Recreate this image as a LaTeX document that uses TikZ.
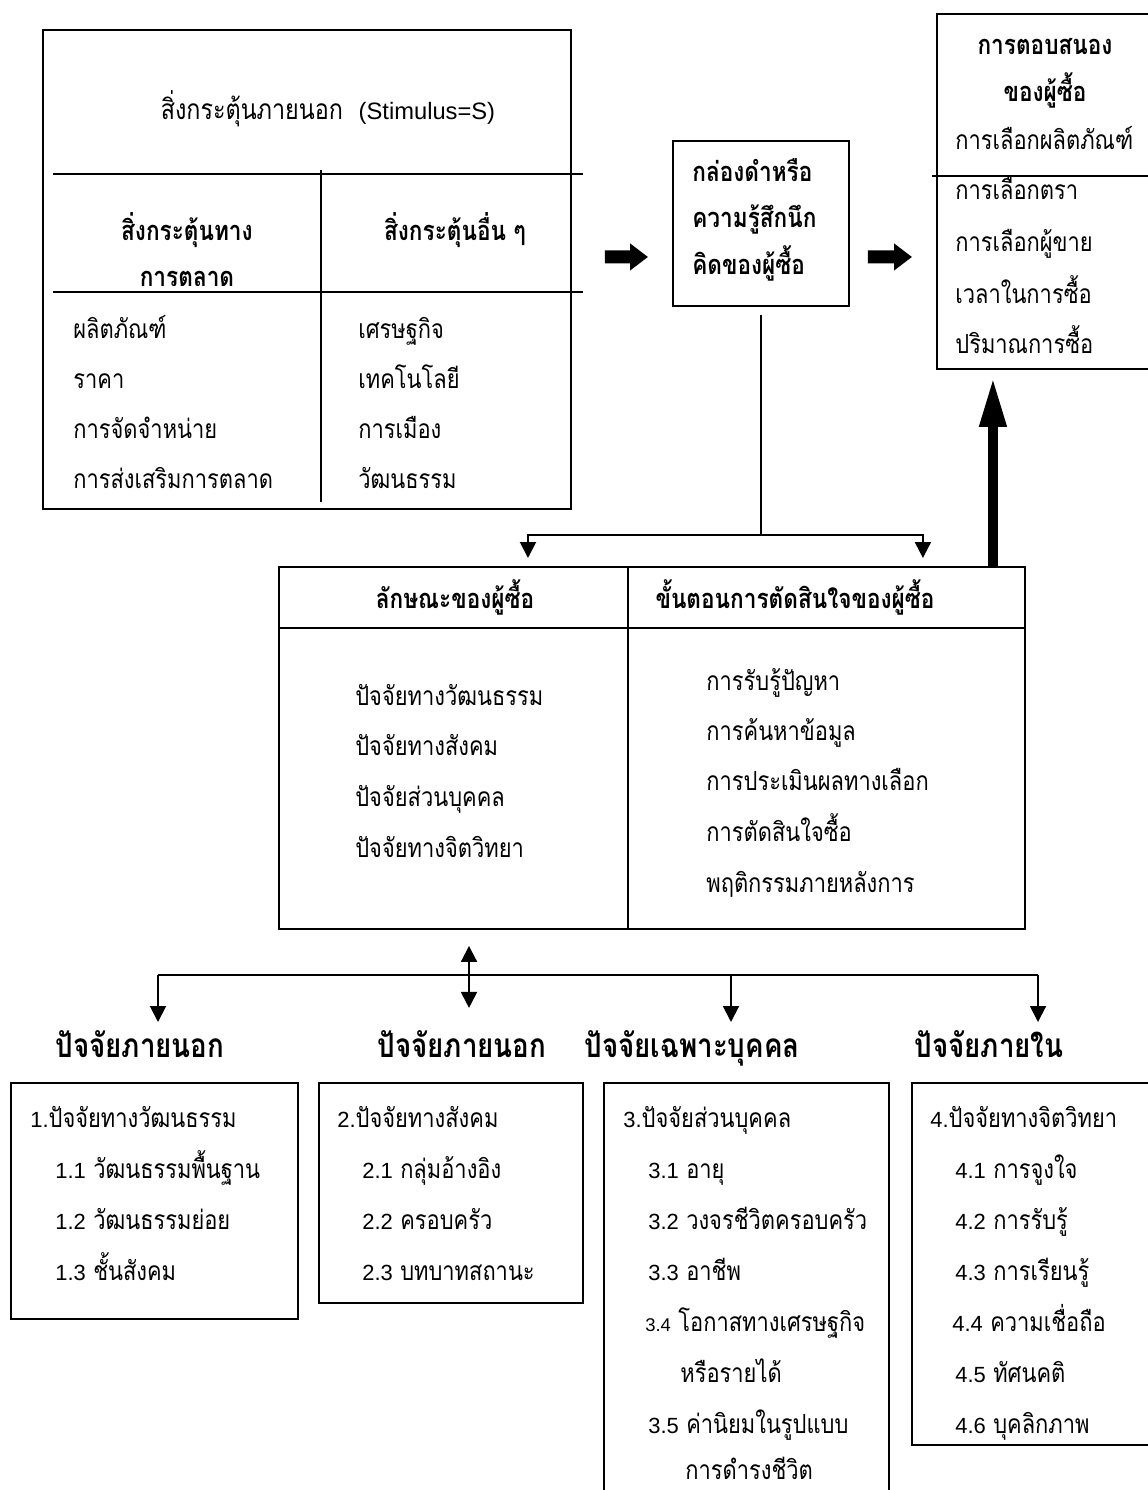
\documentclass[tikz,border=0pt]{standalone}
\usepackage{fontspec}
\newfontfamily\thaifont[Script=Thai,FakeStretch=0.83]{Loma}
\newfontfamily\latinfont{Liberation Sans}
\newcommand{\lat}[1]{{\latinfont\fontsize{12.5}{15}\selectfont #1}}
\usetikzlibrary{arrows.meta}

\begin{document}
\begin{tikzpicture}[x=0.02cm,y=-0.02cm,%%
  boxStyle/.style 2 args={draw,line width=1.1pt,inner sep=0pt,anchor=north west,
    minimum width=#1*0.02cm,minimum height=#2*0.02cm},%%
  itemStyle/.style={inner sep=0pt,anchor=base west,font=\thaifont\fontsize{15}{18}\selectfont},%%
  plainTitleStyle/.style={inner sep=0pt,anchor=base,font=\thaifont\fontsize{16}{19}\selectfont},%%
  titleStyle/.style={inner sep=0pt,anchor=base,font=\thaifont\bfseries\fontsize{15.5}{18}\selectfont},%%
  factorStyle/.style={inner sep=0pt,anchor=base,font=\thaifont\bfseries\fontsize{19}{22}\selectfont},%%
  lineStyle/.style={-,line width=1.1pt},%%
  arrowStyle/.style={-{Triangle[length=0.32cm,width=0.32cm]},line width=1.1pt},%%
  bothArrowStyle/.style={{Triangle[length=0.32cm,width=0.32cm]}-{Triangle[length=0.32cm,width=0.32cm]},line width=1.1pt},%%
  bigArrowStyle/.style={-{Triangle[length=0.36cm,width=0.52cm]},line width=0.26cm},%%
  upArrowStyle/.style={-{Triangle[length=1cm,width=0.5cm]},line width=0.2cm}
]
\useasboundingbox (0,0) rectangle (1148,1490);
%%
%% The boxes.
\node[boxStyle={528}{479}] (stim) at (42,29) {};
\node[boxStyle={176}{165}] (mind) at (672,140) {};
\node[boxStyle={216}{355}] (resp) at (936,13) {};
\node[boxStyle={746}{362}] (buyer) at (278,566) {};
\node[boxStyle={287}{236}] (fOne) at (10,1082) {};
\node[boxStyle={264}{220}] (fTwo) at (318,1082) {};
\node[boxStyle={285}{413}] (fThree) at (603,1082) {};
\node[boxStyle={241}{362}] (fFour) at (911,1082) {};
%% Inner rules of the boxes.
\draw[lineStyle] (53,174) -- (583,174);
\draw[lineStyle] (53,292) -- (583,292);
\draw[lineStyle] (321,170) -- (321,502);
\draw[lineStyle] (932,176) -- (1148,176);
\draw[lineStyle] (278,628) -- (1024,628);
\draw[lineStyle] (628,566) -- (628,928);
%%
%% Stimulus box.
\node[plainTitleStyle] (stimTitle) at (328,120) {สิ่งกระตุ้นภายนอก\ \ {\latinfont\fontsize{13.5}{16}\selectfont (Stimulus=S)}};
\node[titleStyle] (mktHeadA) at (187,240) {สิ่งกระตุ้นทาง};
\node[titleStyle] (mktHeadB) at (187,286) {การตลาด};
\node[titleStyle] (otherHead) at (455,240) {สิ่งกระตุ้นอื่น ๆ};
\node[itemStyle] (mktA) at (73,338) {ผลิตภัณฑ์};
\node[itemStyle] (mktB) at (73,388) {ราคา};
\node[itemStyle] (mktC) at (73,438) {การจัดจำหน่าย};
\node[itemStyle] (mktD) at (73,488) {การส่งเสริมการตลาด};
\node[itemStyle] (otherA) at (358,338) {เศรษฐกิจ};
\node[itemStyle] (otherB) at (358,388) {เทคโนโลยี};
\node[itemStyle] (otherC) at (358,438) {การเมือง};
\node[itemStyle] (otherD) at (358,488) {วัฒนธรรม};
%% Black box.
\node[titleStyle,anchor=base west] (mindA) at (692,182) {กล่องดำหรือ};
\node[titleStyle,anchor=base west] (mindB) at (692,228) {ความรู้สึกนึก};
\node[titleStyle,anchor=base west] (mindC) at (692,275) {คิดของผู้ซื้อ};
%% Response box.
\node[titleStyle] (respHeadA) at (1045,55) {การตอบสนอง};
\node[titleStyle] (respHeadB) at (1045,102) {ของผู้ซื้อ};
\node[itemStyle] (respA) at (955,150) {การเลือกผลิตภัณฑ์};
\node[itemStyle] (respB) at (955,200) {การเลือกตรา};
\node[itemStyle] (respC) at (955,252) {การเลือกผู้ขาย};
\node[itemStyle] (respD) at (955,303) {เวลาในการซื้อ};
\node[itemStyle] (respE) at (955,353) {ปริมาณการซื้อ};
%% Buyer box.
\node[titleStyle] (traitHead) at (455,608) {ลักษณะของผู้ซื้อ};
\node[titleStyle] (stepHead) at (795,608) {ขั้นตอนการตัดสินใจของผู้ซื้อ};
\node[itemStyle] (traitA) at (355,705) {ปัจจัยทางวัฒนธรรม};
\node[itemStyle] (traitB) at (355,755) {ปัจจัยทางสังคม};
\node[itemStyle] (traitC) at (355,806) {ปัจจัยส่วนบุคคล};
\node[itemStyle] (traitD) at (355,857) {ปัจจัยทางจิตวิทยา};
\node[itemStyle] (stepA) at (706,690) {การรับรู้ปัญหา};
\node[itemStyle] (stepB) at (706,740) {การค้นหาข้อมูล};
\node[itemStyle] (stepC) at (706,790) {การประเมินผลทางเลือก};
\node[itemStyle] (stepD) at (706,841) {การตัดสินใจซื้อ};
\node[itemStyle] (stepE) at (706,892) {พฤติกรรมภายหลังการ};
%% Factor headings.
\node[factorStyle] (hOne) at (140,1057) {ปัจจัยภายนอก};
\node[factorStyle] (hTwo) at (462,1057) {ปัจจัยภายนอก};
\node[factorStyle] (hThree) at (692,1057) {ปัจจัยเฉพาะบุคคล};
\node[factorStyle] (hFour) at (989,1057) {ปัจจัยภายใน};
%% Factor boxes.
\node[itemStyle] (oneA) at (30,1127) {\lat{1.}ปัจจัยทางวัฒนธรรม};
\node[itemStyle] (oneB) at (55,1178) {\lat{1.1} วัฒนธรรมพื้นฐาน};
\node[itemStyle] (oneC) at (55,1229) {\lat{1.2} วัฒนธรรมย่อย};
\node[itemStyle] (oneD) at (55,1280) {\lat{1.3} ชั้นสังคม};
\node[itemStyle] (twoA) at (337,1127) {\lat{2.}ปัจจัยทางสังคม};
\node[itemStyle] (twoB) at (362,1178) {\lat{2.1} กลุ่มอ้างอิง};
\node[itemStyle] (twoC) at (362,1229) {\lat{2.2} ครอบครัว};
\node[itemStyle] (twoD) at (362,1280) {\lat{2.3} บทบาทสถานะ};
\node[itemStyle] (threeA) at (623,1127) {\lat{3.}ปัจจัยส่วนบุคคล};
\node[itemStyle] (threeB) at (648,1178) {\lat{3.1} อายุ};
\node[itemStyle] (threeC) at (648,1229) {\lat{3.2} วงจรชีวิตครอบครัว};
\node[itemStyle] (threeD) at (648,1280) {\lat{3.3} อาชีพ};
\node[itemStyle] (threeE) at (645,1331) {{\latinfont\fontsize{10.5}{12}\selectfont 3.4} โอกาสทางเศรษฐกิจ};
\node[itemStyle] (threeF) at (680,1382) {หรือรายได้};
\node[itemStyle] (threeG) at (648,1433) {\lat{3.5} ค่านิยมในรูปแบบ};
\node[itemStyle] (threeH) at (685,1479) {การดำรงชีวิต};
\node[itemStyle] (fourA) at (930,1127) {\lat{4.}ปัจจัยทางจิตวิทยา};
\node[itemStyle] (fourB) at (955,1178) {\lat{4.1} การจูงใจ};
\node[itemStyle] (fourC) at (955,1229) {\lat{4.2} การรับรู้};
\node[itemStyle] (fourD) at (955,1280) {\lat{4.3} การเรียนรู้};
\node[itemStyle] (fourE) at (952,1331) {\lat{4.4} ความเชื่อถือ};
\node[itemStyle] (fourF) at (955,1382) {\lat{4.5} ทัศนคติ};
\node[itemStyle] (fourG) at (955,1433) {\lat{4.6} บุคลิกภาพ};
%%
%% Block arrows of the top row.
\draw[bigArrowStyle,shorten >=0.48cm] ([xshift=0.66cm,yshift=0.25cm]stim.east) -- ([yshift=-0.67cm]mind.west);
\draw[bigArrowStyle,shorten >=0.48cm] ([xshift=0.36cm,yshift=-0.67cm]mind.east) -- ([yshift=-1.31cm]resp.west);
%% From the buyer up to the response.
\coordinate (upStart) at ([xshift=-0.66cm]buyer.north east);
\draw[upArrowStyle,shorten >=0.14cm] (upStart) -- (upStart |- resp.south);
%% From the black box down to the buyer.
\coordinate (split) at ([yshift=-4.56cm]mind.south);
\draw[lineStyle,shorten <=0.16cm] (mind.south) -- (split);
\draw[arrowStyle,shorten >=0.16cm] (split) -| ([xshift=-2.48cm]buyer.north);
\draw[arrowStyle,shorten >=0.16cm] (split) -| ([xshift=5.42cm]buyer.north);
%% From the buyer down to the factors.
\coordinate (link) at ([xshift=-3.66cm]buyer.south);
\draw[bothArrowStyle,shorten <=0.32cm] (link) -- ([yshift=-1.56cm]link);
\coordinate (busL) at (158,975);
\coordinate (busM) at (731,975);
\coordinate (busR) at (1038,975);
\draw[lineStyle] (busL) -- (busR);
\draw[arrowStyle] (busL) -- (busL |- 0,1022);
\draw[arrowStyle] (busM) -- (busM |- 0,1022);
\draw[arrowStyle] (busR) -- (busR |- 0,1022);
\end{tikzpicture}
\end{document}
